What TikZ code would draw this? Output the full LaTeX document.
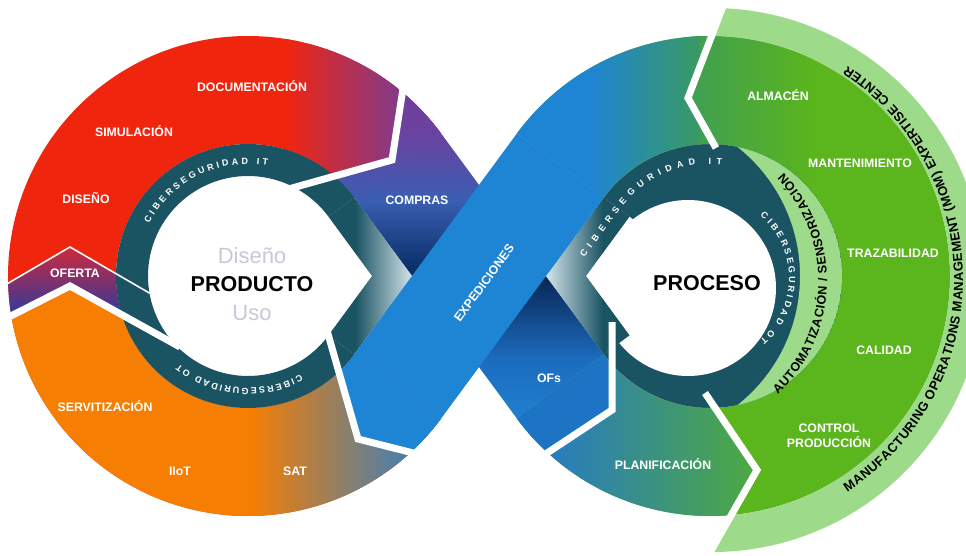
\documentclass[tikz,border=0pt]{standalone}
\usepackage{fontspec}
\setmainfont{Liberation Sans}
\usetikzlibrary{calc,decorations.text}

\definecolor{cred}{HTML}{F0250E}
\definecolor{cpurple}{HTML}{823A8C}
\definecolor{corange}{HTML}{F67E02}
\definecolor{cgrey}{HTML}{4F7FA8}
\definecolor{ofred}{HTML}{D4283A}
\definecolor{ofpurple}{HTML}{7E2E88}
\definecolor{ofblue}{HTML}{1E3CA6}
\definecolor{cteal}{HTML}{1A5362}
\definecolor{cpale}{HTML}{D3E4EA}
\definecolor{oblue}{HTML}{1E84D4}
\definecolor{gteal}{HTML}{3A9A62}
\definecolor{gmid}{HTML}{3E9E55}
\definecolor{gbright}{HTML}{5BB51C}
\definecolor{glight}{HTML}{9DDA89}
\definecolor{pblue}{HTML}{2679C6}
\definecolor{pgreen}{HTML}{4EAA3E}
\definecolor{ofsblue}{HTML}{1E74C4}
\definecolor{csoft}{HTML}{C8C9D6}
\definecolor{ub1}{HTML}{2080CF}
\definecolor{ub2}{HTML}{1C6CBE}
\definecolor{ub3}{HTML}{0F3A74}
\definecolor{ub4}{HTML}{0A2A58}
\definecolor{ub5}{HTML}{0E3470}
\definecolor{ub6}{HTML}{3A5EB2}
\definecolor{ub7}{HTML}{6A42A0}
\definecolor{ub8}{HTML}{7A3A96}

\pgfdeclareverticalshading{underband}{100bp}{color(0bp)=(ub1); color(26.5bp)=(ub1); color(34bp)=(ub2); color(41.7bp)=(ub3); color(44.2bp)=(ub4); color(46.5bp)=(ub5); color(54.5bp)=(ub6); color(63bp)=(ub7); color(75bp)=(ub8); color(100bp)=(ub8)}

\newcommand\tang{36.4}
\newcommand\cibfont{\fontsize{9}{9}\selectfont\bfseries}
\newcommand\autfont{\fontsize{12.5}{13}\selectfont\bfseries}
\newcommand\momfont{\fontsize{13}{14}\selectfont\bfseries}

\tikzset{
	lbl/.style={text=white, inner sep=0pt, font=\fontsize{12.3}{15}\selectfont\bfseries},
	big/.style={inner sep=0pt, font=\fontsize{21.5}{24}\selectfont\bfseries},
	soft/.style={text=csoft, inner sep=0pt, font=\fontsize{22}{24}\selectfont},
	notch/.style={white, line width=7pt, line join=miter},
	ribbon/.style={decorate, decoration={text along path, text align={fit to path}, text color=#1}},
	lring/.style={insert path={($(L)+(\tang:240)$) arc[start angle=\tang, end angle=360-\tang, radius=240] -- ($(L)+(-\tang:132)$) arc[start angle=360-\tang, end angle=\tang, radius=132] -- cycle}},
	rring/.style={insert path={($(R)+(180-\tang:240)$) arc[start angle=180-\tang, end angle=\tang-180, radius=240] -- ($(R)+(\tang-180:132)$) arc[start angle=\tang-180, end angle=180-\tang, radius=132] -- cycle}},
	underband/.style={insert path={($(L)+(\tang:132)$) -- ($(L)+(\tang:240)$) -- ($(R)+(180+\tang:132)$) -- ($(R)+(180+\tang:240)$) -- cycle}},
	overband/.style={insert path={($(L)+(-\tang:132)$) -- ($(L)+(-\tang:240)$) -- ($(R)+(180-\tang:132)$) -- ($(R)+(180-\tang:240)$) -- cycle}},
}

\begin{document}
\begin{tikzpicture}[x=1pt, y=1pt]
\useasboundingbox (0,0) rectangle (966,-556);
\clip (0,0) rectangle (966,-556);
\fill[white] (0,0) rectangle (966,-556);

\coordinate (L) at (248,-276);
\coordinate (R) at (710,-276);
\coordinate (C2) at (635.6,-276);
\coordinate (W) at (688,-288);

\begin{scope}
	\clip[lring];
	\fill[cred] (0,0) rectangle (460,-556);
	\shade[left color=cred, right color=cpurple] (285,0) rectangle (400,-300);
	\fill[cpurple] (400,0) rectangle (460,-300);
	\begin{scope}
		\clip (-10,-294) -- (70,-247) -- (175,-308) -- (180,-347) -- (70,-286) -- (-10,-327) -- cycle;
		\shade[top color=ofred, middle color=ofpurple, bottom color=ofblue] (0,-245) rectangle (180,-322);
	\end{scope}
	\begin{scope}
		\clip (-10,-327) -- (70,-286) -- (180,-347) -- (300,-300) -- (480,-380) -- (480,-560) -- (-10,-560) -- cycle;
		\fill[corange] (0,-280) rectangle (250,-560);
		\shade[left color=corange, right color=cgrey] (250,-280) rectangle (400,-560);
		\fill[cgrey] (400,-280) rectangle (480,-560);
	\end{scope}
	\begin{scope}
		\clip (412,-30) -- (392,-160) -- (285,-190) -- (330,-250) -- (480,-160) -- (470,-20) -- cycle;
		\shade[shading=underband] (340,-40) rectangle (620,-430);
	\end{scope}
\end{scope}

\fill[cteal] ($(L)+(\tang:132)$) arc[start angle=\tang, end angle=360-\tang, radius=132] -- ($(L)+(-\tang:100)$) arc[start angle=360-\tang, end angle=\tang, radius=100] -- cycle;

\begin{scope}
	\clip[underband];
	\shade[shading=underband] (340,-40) rectangle (620,-430);
\end{scope}

\begin{scope}
	\clip[rring];
	\fill[gbright] (460,0) rectangle (1000,-560);
	\shade[left color=gmid, right color=gbright] (685,0) rectangle (815,-200);
	\begin{scope}
		\clip (460,10) -- (729,10) -- (688,-98) -- (731,-175) -- (600,-250) -- (460,-250) -- cycle;
		\fill[oblue] (440,10) rectangle (590,-260);
		\shade[left color=oblue, right color=gteal] (590,10) rectangle (700,-260);
	\end{scope}
	\begin{scope}
		\clip (705,-393) -- (757,-470) -- (700,-570) -- (460,-570) -- (460,-300) -- (640,-330) -- cycle;
		\fill[pblue] (460,-300) rectangle (540,-570);
		\shade[left color=pblue, right color=pgreen] (540,-300) rectangle (760,-570);
	\end{scope}
	\begin{scope}
		\clip (612,-322) -- (612,-410) -- (532,-463) -- (480,-430) -- (560,-300) -- cycle;
		\fill[ofsblue] (460,-290) rectangle (620,-470);
	\end{scope}
\end{scope}

\begin{scope}
	\clip (R) circle[radius=132];
	\fill[cteal] (R) -- ($(R)+(180-\tang:140)$) arc[start angle=180-\tang, end angle=\tang-180, radius=140] -- cycle;
	\fill[glight, even odd rule] (R) circle[radius=132] (C2) circle[radius=164.4];
\end{scope}
\fill[white] (W) circle[radius=88];

\begin{scope}
	\clip (725.3,0) -- (970,0) -- (970,-570) -- (700,-570) -- (757,-470) -- (688,-98) -- cycle;
	\fill[glight, even odd rule] (712,-280) circle[radius=272] (R) circle[radius=240];
\end{scope}

\begin{scope}
	\clip ($(L)+(\tang:100)$) -- ($(L)+(\tang:132)$) -- ($(L)+(164,0)$) -- ($(L)+(124,0)$) -- cycle
		($(L)+(-\tang:100)$) -- ($(L)+(-\tang:132)$) -- ($(L)+(164,0)$) -- ($(L)+(124,0)$) -- cycle;
	\fill[cteal] (300,-150) rectangle (355,-400);
	\shade[left color=cteal, right color=cpale] (355,-150) rectangle (412,-400);
\end{scope}
\begin{scope}
	\clip ($(R)+(180-\tang:100)$) -- ($(R)+(180-\tang:132)$) -- ($(R)+(-164,0)$) -- ($(R)+(-124,0)$) -- cycle
		($(R)+(180+\tang:100)$) -- ($(R)+(180+\tang:132)$) -- ($(R)+(-164,0)$) -- ($(R)+(-124,0)$) -- cycle;
	\fill[cteal] (603,-150) rectangle (660,-400);
	\shade[left color=cpale, right color=cteal] (546,-150) rectangle (603,-400);
\end{scope}

\fill[oblue][overband];
\begin{scope}
	\clip[lring];
	\fill[oblue] (322,-313) -- (358,-439) -- (445,-461) -- (480,-400) -- (380,-300) -- cycle;
\end{scope}

\foreach \xa/\ya/\xb/\yb/\xc/\yc in {
	412/30/392/160/285/190%
	,0/321.5/70/286/180/347%
	,322/313/358/439/445/461%
	,612/322/612/410/532/463%
	,725.3/0/688/98/716/148%
	,705/393/757/470/700/570%
}{
	\draw[notch] (\xa,-\ya) -- (\xb,-\yb) -- (\xc,-\yc);
}
\draw[white, line width=1.6pt] (0,-288) -- (70,-247) -- (170,-305);

\path[ribbon=white, decoration={text={|\cibfont|CIBERSEGURIDAD IT}}]
	($(L)+(152:112)$) arc[start angle=152, end angle=80, radius=112];
\path[ribbon=white, decoration={text={|\cibfont|CIBERSEGURIDAD OT}}]
	($(L)+(-62:112)$) arc[start angle=-62, end angle=-128, radius=112];
\path[ribbon=white, decoration={text={|\cibfont|CIBERSEGURIDAD IT}}]
	($(R)+(180-\tang:112)+(270-\tang:60)$) -- ($(R)+(180-\tang:112)$) arc[start angle=180-\tang, end angle=84, radius=112];
\path[ribbon=white, decoration={text={|\cibfont|CIBERSEGURIDAD OT}}]
	($(708,-278)+(50:81)$) arc[start angle=50, end angle=-50, radius=81];
\path[ribbon=black, decoration={text={|\autfont|AUTOMATIZACIÓN / SENSORIZACIÓN}}]
	($(672,-281)+(-47:155)$) arc[start angle=-47, end angle=44, radius=155];
\path[ribbon=black, decoration={text={|\momfont|MANUFACTURING OPERATIONS MANAGEMENT (MOM) EXPERTISE CENTER}}]
	($(709,-279)+(-57:254)$) arc[start angle=-57, end angle=57, radius=254];

\foreach \x/\y/\n/\txt in {
	252/86/doc/DOCUMENTACIÓN,134/131/sim/SIMULACIÓN,86/198/dis/DISEÑO%
	,75/273/ofe/OFERTA,105/406/ser/SERVITIZACIÓN,180/471/iot/IIoT,295/471/sat/SAT%
	,417/200/com/COMPRAS,549/378/ofs/OFs,663/464/pla/PLANIFICACIÓN%
	,778/95/alm/ALMACÉN,860/163/man/MANTENIMIENTO,893/253/tra/TRAZABILIDAD,884/350/cal/CALIDAD%
}{
	\node[lbl] (\n) at (\x,-\y) {\txt};
}
\node[lbl, rotate=53.6] (exp) at (484,-283) {EXPEDICIONES};
\node[lbl, align=center] (ctrl) at (829,-436) {CONTROL\\PRODUCCIÓN};

\node[soft] (dise) at (252,-256) {Diseño};
\node[big] (prod) at (252,-284) {PRODUCTO};
\node[soft] (uso) at (252,-313) {Uso};
\node[big] (proc) at (707,-283) {PROCESO};
\end{tikzpicture}
\end{document}
